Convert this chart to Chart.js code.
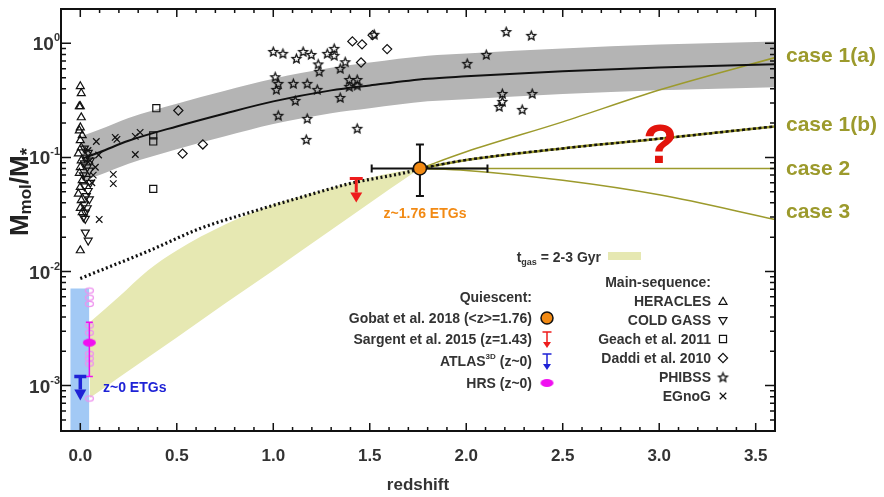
<!DOCTYPE html>
<html>
<head>
<meta charset="utf-8">
<script src="https://cdn.jsdelivr.net/npm/chart.js@4.4.1/dist/chart.umd.min.js"></script>
<style>
  html, body { margin: 0; padding: 0; background: #fff; }
</style>
</head>
<body>
<canvas id="myChart" width="884" height="497"></canvas>
<script>
// ---- data ----
const xTicks = [0, 0.5, 1.0, 1.5, 2.0, 2.5, 3.0, 3.5];
const yTicks = [1e-3, 1e-2, 1e-1, 1];
const yTickExp = ["-3", "-2", "-1", "0"];

// main-sequence trend and its scatter band
const msZ = [0.01, 0.1, 0.25, 0.5, 0.75, 1.0, 1.3, 1.5, 1.8, 2.0, 2.5, 3.0, 3.6];
const msMid = [0.098, 0.111, 0.14, 0.187, 0.243, 0.31, 0.387, 0.428, 0.49, 0.514, 0.57, 0.615, 0.655];
const msHigh = [0.155, 0.176, 0.222, 0.296, 0.385, 0.49, 0.61, 0.68, 0.78, 0.815, 0.9, 0.975, 1.04];
const msLow = [0.062, 0.07, 0.088, 0.118, 0.153, 0.196, 0.244, 0.27, 0.31, 0.324, 0.36, 0.388, 0.413];

// t_gas = 2-3 Gyr band
const tgZ = [0.05, 0.2, 0.35, 0.5, 0.75, 1.0, 1.14, 1.4, 1.6, 1.76];
const tgHigh = [0.0036, 0.006, 0.0102, 0.0153, 0.0258, 0.0387, 0.0455, 0.0604, 0.0724, 0.08];
const tgLow = [0.00078, 0.00118, 0.00176, 0.00264, 0.00524, 0.0102, 0.015, 0.0304, 0.0524, 0.08];

// dotted track
const dotZ = [0.0, 0.36, 0.62, 0.88, 1.14, 1.4, 1.71, 1.76];
const dotF = [0.0087, 0.0153, 0.0238, 0.033, 0.0446, 0.0592, 0.0754, 0.08];

// future cases
const caseZ = [1.76, 2.0, 2.5, 3.0, 3.6];
const case1a = [0.08, 0.112, 0.205, 0.39, 0.75];
const case1b = [0.08, 0.095, 0.12, 0.146, 0.187];
const case2 = [0.08, 0.08, 0.08, 0.08, 0.08];
const case3 = [0.08, 0.077, 0.063, 0.047, 0.0286];

// z~0 ETG region
const etgBoxZ = [-0.052, 0.047];
const etgBoxTop = [0.0071, 0.0071];

// quiescent
const gobatZ = [1.76], gobatF = [0.08];
const gobatZErr = [1.51, 2.11], gobatFErr = [0.046, 0.13];
const sargentZ = [1.43], sargentF = [0.0655];
const atlasZ = [0.0], atlasF = [0.0012];
const hrsZ = [0.047, 0.047, 0.047, 0.047, 0.047, 0.047, 0.047, 0.047, 0.047];
const hrsF = [0.0068, 0.0059, 0.0052, 0.00336, 0.0029, 0.0019, 0.00173, 0.00156, 0.00077];
const hrsMeanZ = [0.047], hrsMeanF = [0.00238], hrsMeanErr = [0.0012, 0.0036];

// main-sequence samples
const heraclesZ = [0.0, 0.005, -0.005, 0.0, 0.005, 0.0, -0.005, 0.01, 0.0, 0.005, -0.01, 0.005, 0.0, -0.005, 0.01, 0.0, -0.01, 0.005, 0.0, 0.01, 0.0];
const heraclesF = [0.42, 0.364, 0.28, 0.28, 0.224, 0.183, 0.172, 0.156, 0.141, 0.122, 0.108, 0.094, 0.082, 0.073, 0.063, 0.055, 0.048, 0.042, 0.036, 0.033, 0.0153];
const coldZ = [0.021, 0.041, 0.031, 0.052, 0.021, 0.036, 0.047, 0.016, 0.031, 0.052, 0.021, 0.041, 0.031, 0.047, 0.021, 0.036, 0.026, 0.016, 0.026, 0.026, 0.041];
const coldF = [0.12, 0.11, 0.1, 0.094, 0.089, 0.082, 0.077, 0.07, 0.065, 0.06, 0.056, 0.051, 0.046, 0.043, 0.039, 0.036, 0.033, 0.03, 0.029, 0.022, 0.0187];
const geachZ = [0.394, 0.378, 0.378, 0.378];
const geachF = [0.27, 0.156, 0.138, 0.053];
const daddiZ = [0.508, 0.53, 0.635, 1.41, 1.46, 1.455, 1.59, 1.515];
const daddiF = [0.258, 0.108, 0.13, 1.04, 0.98, 0.68, 0.89, 1.18];
const phibssZ = [1.0, 1.05, 1.12, 1.155, 1.197, 1.28, 1.316, 1.316, 1.373, 1.233, 1.238, 1.347, 1.01, 1.026, 1.016, 1.104, 1.176, 1.228, 1.114, 1.347, 1.394, 1.394, 1.435, 1.435, 1.026, 1.176, 1.171, 1.435, 1.523, 2.005, 2.104, 2.207, 2.337, 2.187, 2.187, 2.171, 2.342, 2.29];
const phibssF = [0.85, 0.817, 0.739, 0.85, 0.8, 0.817, 0.904, 0.785, 0.69, 0.66, 0.568, 0.604, 0.51, 0.446, 0.395, 0.446, 0.446, 0.395, 0.316, 0.336, 0.483, 0.42, 0.483, 0.43, 0.234, 0.22, 0.144, 0.18, 1.2, 0.668, 0.8, 1.27, 1.175, 0.364, 0.31, 0.28, 0.364, 0.264];
const egnogZ = [0.083, 0.078, 0.181, 0.19, 0.285, 0.31, 0.285, 0.171, 0.171, 0.098, 0.04, 0.067, 0.05, 0.06, 0.095];
const egnogF = [0.138, 0.082, 0.15, 0.144, 0.153, 0.166, 0.106, 0.071, 0.059, 0.0286, 0.115, 0.07, 0.094, 0.06, 0.105];

// ---- style ----
const FONT = "'Liberation Sans', Arial, Helvetica, sans-serif";
const TXT = "#333";
const OLIVE = "#9c9a2c";
const ORANGE = "#f28a14";
const RED = "#ee1c1c";
const BLUE = "#1e22d6";
const MAGENTA = "#f010f0";

function pts(xs, ys) {
  return xs.map((x, i) => ({ x: x, y: ys[i] }));
}

function starImg(r, lw) {
  const s = Math.ceil(2 * r + 2 * lw + 3);
  const c = document.createElement("canvas");
  c.width = s; c.height = s;
  const g = c.getContext("2d");
  g.translate(s / 2, s / 2 + 0.6);
  g.beginPath();
  for (let i = 0; i < 10; i++) {
    const rr = i % 2 ? r * 0.45 : r;
    const a = -Math.PI / 2 + i * Math.PI / 5;
    g.lineTo(rr * Math.cos(a), rr * Math.sin(a));
  }
  g.closePath();
  g.lineWidth = lw;
  g.strokeStyle = "#111";
  g.stroke();
  return c;
}

function ellipseImg(rx, ry, lw, color, filled) {
  const w = Math.ceil(2 * rx + 2 * lw + 2), h = Math.ceil(2 * ry + 2 * lw + 2);
  const c = document.createElement("canvas");
  c.width = w; c.height = h;
  const g = c.getContext("2d");
  g.beginPath();
  g.ellipse(w / 2, h / 2, rx, ry, 0, 0, Math.PI * 2);
  if (filled) { g.fillStyle = color; g.fill(); }
  else { g.lineWidth = lw; g.strokeStyle = color; g.stroke(); }
  return c;
}

const starPt = starImg(4.6, 1.3);
const hrsPt = ellipseImg(4, 2.6, 1.3, "#ee90ee", false);
const hrsMeanPt = ellipseImg(6.5, 4, 0, MAGENTA, true);

function lineSet(label, xs, ys, color, width, extra) {
  return Object.assign({
    label: label,
    data: pts(xs, ys),
    showLine: true,
    borderColor: color,
    borderWidth: width,
    pointRadius: 0,
    fill: false,
    cubicInterpolationMode: "monotone",
    order: 8
  }, extra || {});
}

function markSet(label, xs, ys, style, radius, extra) {
  return Object.assign({
    label: label,
    data: pts(xs, ys),
    showLine: false,
    pointStyle: style,
    pointRadius: radius,
    borderColor: "#111",
    backgroundColor: "rgba(0,0,0,0)",
    borderWidth: 1.2,
    order: 2
  }, extra || {});
}

function drawLimit(ctx, px, py, len, color, bw, lw, hw, hh) {
  ctx.save();
  ctx.strokeStyle = color;
  ctx.fillStyle = color;
  ctx.lineWidth = lw;
  ctx.beginPath();
  ctx.moveTo(px - bw, py); ctx.lineTo(px + bw, py);
  ctx.moveTo(px, py); ctx.lineTo(px, py + len - hh);
  ctx.stroke();
  ctx.beginPath();
  ctx.moveTo(px - hw, py + len - hh);
  ctx.lineTo(px + hw, py + len - hh);
  ctx.lineTo(px, py + len);
  ctx.closePath();
  ctx.fill();
  ctx.restore();
}

// text made of parts (for sub/superscripts); y is the baseline
function drawParts(ctx, parts, x, y, align, color) {
  let w = 0;
  parts.forEach(p => {
    ctx.font = "bold " + p.size + "px " + FONT;
    p.w = ctx.measureText(p.t).width;
    w += p.w;
  });
  let cx = align === "right" ? x - w : align === "center" ? x - w / 2 : x;
  ctx.fillStyle = color;
  ctx.textAlign = "left";
  ctx.textBaseline = "alphabetic";
  parts.forEach(p => {
    ctx.font = "bold " + p.size + "px " + FONT;
    ctx.fillText(p.t, cx, y + (p.dy || 0));
    cx += p.w;
  });
}

const decor = {
  id: "decor",
  beforeDatasetDraw(chart, args) {
    const ds = chart.data.datasets[args.index];
    const ctx = chart.ctx, sx = chart.scales.x, sy = chart.scales.y;
    if (ds.label === "Gobat") {
      const px = sx.getPixelForValue(gobatZ[0]), py = sy.getPixelForValue(gobatF[0]);
      const x0 = sx.getPixelForValue(gobatZErr[0]), x1 = sx.getPixelForValue(gobatZErr[1]);
      const y0 = sy.getPixelForValue(gobatFErr[0]), y1 = sy.getPixelForValue(gobatFErr[1]);
      ctx.save();
      ctx.strokeStyle = "#111";
      ctx.lineWidth = 2;
      ctx.beginPath();
      ctx.moveTo(x0, py); ctx.lineTo(x1, py);
      ctx.moveTo(x0, py - 4); ctx.lineTo(x0, py + 4);
      ctx.moveTo(x1, py - 4); ctx.lineTo(x1, py + 4);
      ctx.moveTo(px, y0); ctx.lineTo(px, y1);
      ctx.moveTo(px - 4, y0); ctx.lineTo(px + 4, y0);
      ctx.moveTo(px - 4, y1); ctx.lineTo(px + 4, y1);
      ctx.stroke();
      ctx.restore();
    }
    if (ds.label === "HRS mean") {
      const px = sx.getPixelForValue(hrsMeanZ[0]);
      const y0 = sy.getPixelForValue(hrsMeanErr[0]), y1 = sy.getPixelForValue(hrsMeanErr[1]);
      ctx.save();
      ctx.strokeStyle = MAGENTA;
      ctx.lineWidth = 1.5;
      ctx.beginPath();
      ctx.moveTo(px, y0); ctx.lineTo(px, y1);
      ctx.moveTo(px - 3.5, y0); ctx.lineTo(px + 3.5, y0);
      ctx.moveTo(px - 3.5, y1); ctx.lineTo(px + 3.5, y1);
      ctx.stroke();
      ctx.restore();
    }
  },
  afterDatasetsDraw(chart) {
    const ctx = chart.ctx, sx = chart.scales.x, sy = chart.scales.y;
    const a = chart.chartArea;

    // upper limits
    drawLimit(ctx, sx.getPixelForValue(sargentZ[0]), sy.getPixelForValue(sargentF[0]), 24, RED, 6.5, 3, 6, 10);
    drawLimit(ctx, sx.getPixelForValue(atlasZ[0]), sy.getPixelForValue(atlasF[0]), 24, BLUE, 6, 3.5, 6, 11);

    // frame and inward ticks
    ctx.save();
    ctx.strokeStyle = "#111";
    ctx.lineWidth = 2;
    ctx.strokeRect(a.left, a.top, a.right - a.left, a.bottom - a.top);
    ctx.lineWidth = 1.5;
    ctx.beginPath();
    for (let i = 0; i <= 35; i++) {
      const px = sx.getPixelForValue(i / 10);
      const len = i % 5 === 0 ? 8 : 4;
      ctx.moveTo(px, a.bottom); ctx.lineTo(px, a.bottom - len);
      ctx.moveTo(px, a.top); ctx.lineTo(px, a.top + len);
    }
    for (let e = -4; e <= 0; e++) {
      for (let m = 1; m <= 9; m++) {
        const v = m * Math.pow(10, e);
        if (v < sy.min || v > sy.max) continue;
        const py = sy.getPixelForValue(v);
        const len = m === 1 ? 10 : 5;
        ctx.moveTo(a.left, py); ctx.lineTo(a.left + len, py);
        ctx.moveTo(a.right, py); ctx.lineTo(a.right - len, py);
      }
    }
    ctx.stroke();
    ctx.restore();

    // y tick labels (10^n)
    ctx.save();
    yTicks.forEach((v, i) => {
      const py = sy.getPixelForValue(v);
      drawParts(ctx, [
        { t: "10", size: 19 },
        { t: yTickExp[i], size: 11, dy: -9 }
      ], a.left - 1, py + 7, "right", TXT);
    });

    // y axis title, rotated
    ctx.translate(28, 192);
    ctx.rotate(-Math.PI / 2);
    drawParts(ctx, [
      { t: "M", size: 26 },
      { t: "mol", size: 17, dy: 3 },
      { t: "/M", size: 26 },
      { t: "*", size: 19, dy: 5 }
    ], 0, 0, "center", "#222");
    ctx.restore();

    ctx.save();
    // annotations
    drawParts(ctx, [{ t: "z~1.76 ETGs", size: 14 }], 425, 218, "center", ORANGE);
    drawParts(ctx, [{ t: "z~0 ETGs", size: 14 }], 103, 392, "left", BLUE);
    drawParts(ctx, [{ t: "?", size: 56 }], 660, 163, "center", "#e2140c");
    const caseLabels = ["case 1(a)", "case 1(b)", "case 2", "case 3"];
    const caseY = [62, 131, 175, 218];
    caseLabels.forEach((t, i) => drawParts(ctx, [{ t: t, size: 21 }], 786, caseY[i], "left", OLIVE));

    // t_gas legend
    drawParts(ctx, [
      { t: "t", size: 14 },
      { t: "gas", size: 9, dy: 3 },
      { t: " = 2-3 Gyr", size: 14 }
    ], 601, 262, "right", TXT);
    ctx.fillStyle = "#e6e8b2";
    ctx.fillRect(608, 252, 33, 8);

    // quiescent legend
    const qx = 532, mx = 547;
    drawParts(ctx, [{ t: "Quiescent:", size: 14 }], qx, 302, "right", TXT);
    drawParts(ctx, [{ t: "Gobat et al. 2018 (<z>=1.76)", size: 14 }], qx, 323, "right", TXT);
    drawParts(ctx, [{ t: "Sargent et al. 2015 (z=1.43)", size: 14 }], qx, 344, "right", TXT);
    drawParts(ctx, [
      { t: "ATLAS", size: 14 },
      { t: "3D", size: 8, dy: -7 },
      { t: " (z~0)", size: 14 }
    ], qx, 366, "right", TXT);
    drawParts(ctx, [{ t: "HRS (z~0)", size: 14 }], qx, 388, "right", TXT);
    ctx.fillStyle = ORANGE;
    ctx.strokeStyle = "#111";
    ctx.lineWidth = 1.5;
    Chart.helpers.drawPoint(ctx, { pointStyle: "circle", radius: 6, borderWidth: 1.5 }, mx, 318);
    drawLimit(ctx, mx, 332, 16, RED, 4.5, 1.5, 4, 6);
    drawLimit(ctx, mx, 354, 16, BLUE, 4.5, 1.5, 4, 6);
    ctx.drawImage(hrsMeanPt, mx - hrsMeanPt.width / 2, 383 - hrsMeanPt.height / 2);

    // main-sequence legend
    const rx = 711, rm = 723;
    const msNames = ["HERACLES", "COLD GASS", "Geach et al. 2011", "Daddi et al. 2010", "PHIBSS", "EGnoG"];
    drawParts(ctx, [{ t: "Main-sequence:", size: 14 }], rx, 287, "right", TXT);
    msNames.forEach((t, i) => drawParts(ctx, [{ t: t, size: 14 }], rx, 306 + i * 19, "right", TXT));
    ctx.fillStyle = "rgba(0,0,0,0)";
    ctx.strokeStyle = "#111";
    ctx.lineWidth = 1.2;
    const H = Chart.helpers;
    H.drawPoint(ctx, { pointStyle: "triangle", radius: 4.6, borderWidth: 1.2 }, rm, 302);
    H.drawPoint(ctx, { pointStyle: "triangle", rotation: 180, radius: 4.6, borderWidth: 1.2 }, rm, 320);
    H.drawPoint(ctx, { pointStyle: "rect", radius: 5, borderWidth: 1.2 }, rm, 339);
    H.drawPoint(ctx, { pointStyle: "rectRot", radius: 4.6, borderWidth: 1.2 }, rm, 358);
    ctx.drawImage(starPt, rm - starPt.width / 2, 377 - starPt.height / 2);
    H.drawPoint(ctx, { pointStyle: "crossRot", radius: 4.6, borderWidth: 1.2 }, rm, 396);
    ctx.restore();
  }
};

const ctx = document.getElementById("myChart");
new Chart(ctx, {
  type: "scatter",
  data: {
    datasets: [
      lineSet("z0 box", etgBoxZ, etgBoxTop, "rgba(0,0,0,0)", 0, { fill: "start", backgroundColor: "#a2c9f5", order: 30, cubicInterpolationMode: "default" }),
      lineSet("MS high", msZ, msHigh, "rgba(0,0,0,0)", 0, { fill: "+1", backgroundColor: "#b4b4b4", order: 29 }),
      lineSet("MS low", msZ, msLow, "rgba(0,0,0,0)", 0, { order: 29 }),
      lineSet("tgas high", tgZ, tgHigh, "rgba(0,0,0,0)", 0, { fill: "+1", backgroundColor: "#e6e8b2", order: 28 }),
      lineSet("tgas low", tgZ, tgLow, "rgba(0,0,0,0)", 0, { order: 28 }),
      lineSet("MS trend", msZ, msMid, "#111", 2),
      lineSet("track", dotZ, dotF, "#111", 3.2, { borderDash: [2, 2.6] }),
      lineSet("case 1(a)", caseZ, case1a, OLIVE, 1.5),
      lineSet("case 1(b)", caseZ, case1b, OLIVE, 2.5),
      lineSet("case 1(b) dash", caseZ, case1b, "#111", 2.5, { borderDash: [3, 2.5], order: 7 }),
      lineSet("case 2", caseZ, case2, OLIVE, 1.5),
      lineSet("case 3", caseZ, case3, OLIVE, 1.5),
      markSet("HERACLES", heraclesZ, heraclesF, "triangle", 4.6),
      markSet("COLD GASS", coldZ, coldF, "triangle", 4.6, { rotation: 180 }),
      markSet("Geach", geachZ, geachF, "rect", 5),
      markSet("Daddi", daddiZ, daddiF, "rectRot", 4.6),
      markSet("PHIBSS", phibssZ, phibssF, starPt, 5),
      markSet("EGnoG", egnogZ, egnogF, "crossRot", 4.6),
      markSet("HRS", hrsZ, hrsF, hrsPt, 5, { order: 3 }),
      markSet("HRS mean", hrsMeanZ, hrsMeanF, hrsMeanPt, 6, { order: 1 }),
      markSet("Gobat", gobatZ, gobatF, "circle", 6.5, { backgroundColor: ORANGE, borderColor: "#111", borderWidth: 1.5, order: 0 })
    ]
  },
  options: {
    responsive: false,
    animation: false,
    events: [],
    layout: { padding: { left: 61, right: 109, top: 9, bottom: 0 } },
    plugins: {
      legend: { display: false },
      tooltip: { enabled: false }
    },
    scales: {
      x: {
        type: "linear",
        min: -0.1,
        max: 3.6,
        grid: { display: false, drawTicks: false },
        border: { display: false },
        ticks: {
          stepSize: 0.5,
          includeBounds: false,
          autoSkip: false,
          maxRotation: 0,
          padding: 15,
          color: TXT,
          font: { family: FONT, size: 17, weight: "bold" },
          callback: v => v.toFixed(1)
        },
        title: {
          display: true,
          text: "redshift",
          color: TXT,
          padding: { top: 0, bottom: 1 },
          font: { family: FONT, size: 17, weight: "bold" }
        },
        afterFit: s => { s.height = 66; }
      },
      y: {
        type: "logarithmic",
        display: false,
        min: 0.0004,
        max: 2
      }
    }
  },
  plugins: [decor]
});
</script>
</body>
</html>
